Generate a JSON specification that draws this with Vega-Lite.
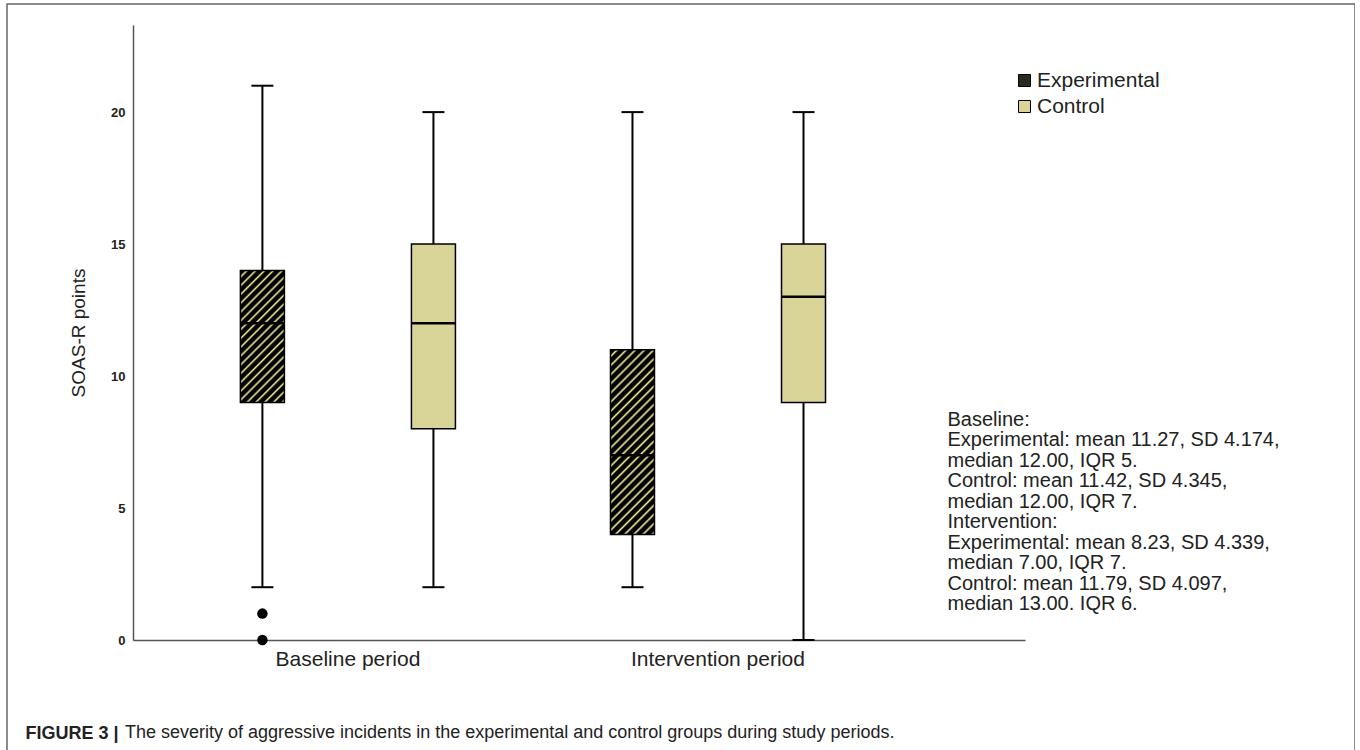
{
  "$schema": "https://vega.github.io/schema/vega-lite/v6.json",
  "width": 1348,
  "height": 770,
  "autosize": {"type": "none"},
  "padding": {"left": 7, "top": 4, "right": 0, "bottom": 0},
  "background": "white",
  "config": {
    "font": "Liberation Sans",
    "view": {"stroke": "#666666", "strokeWidth": 1.5},
    "axis": {"grid": false, "ticks": false, "domainColor": "#555555", "domainWidth": 1.5},
    "axisY": {"offset": -126, "labelFontSize": 13, "labelFontWeight": "bold", "labelPadding": 8, "labelColor": "#222222", "titleFontSize": 19, "titleFontWeight": "normal", "titleColor": "#222222", "titlePadding": 22},
    "tick": {"opacity": 1},
    "point": {"opacity": 1}
  },
  "title": {
    "text": "The severity of aggressive incidents in the experimental and control groups during study periods.",
    "orient": "bottom", "anchor": "start", "frame": "group", "offset": 0, "dx": 118, "dy": -36,
    "baseline": "alphabetic", "fontSize": 18, "fontWeight": "normal", "color": "#222222", "font": "Liberation Sans"
  },
  "datasets": {
    "boxes": [
      {"period": "Baseline period", "group": "Experimental", "lower": 2, "q1": 9, "median": 12, "q3": 14, "upper": 21},
      {"period": "Baseline period", "group": "Control", "lower": 2, "q1": 8, "median": 12, "q3": 15, "upper": 20},
      {"period": "Intervention period", "group": "Experimental", "lower": 2, "q1": 4, "median": 7, "q3": 11, "upper": 20},
      {"period": "Intervention period", "group": "Control", "lower": 0, "q1": 9, "median": 13, "q3": 15, "upper": 20}
    ],
    "outliers": [
      {"period": "Baseline period", "group": "Experimental", "value": 1},
      {"period": "Baseline period", "group": "Experimental", "value": 0}
    ],
    "note": [
      {"note": "Baseline:\nExperimental: mean 11.27, SD 4.174,\nmedian 12.00, IQR 5.\nControl: mean 11.42, SD 4.345,\nmedian 12.00, IQR 7.\nIntervention:\nExperimental: mean 8.23, SD 4.339,\nmedian 7.00, IQR 7.\nControl: mean 11.79, SD 4.097,\nmedian 13.00. IQR 6."}
    ]
  },
  "encoding": {
    "x": {
      "field": "period", "type": "nominal", "sort": ["Baseline period", "Intervention period"],
      "scale": {"range": [126, 1018], "paddingInner": 0.0757, "paddingOuter": 0.243, "align": 0.244},
      "axis": {
        "offset": -134, "labelAngle": 0, "labelFontSize": 21, "labelPadding": 8, "labelColor": "#222222",
        "title": "FIGURE 3 |", "titleFontSize": 18, "titleFontWeight": "bold", "titleColor": "#222222",
        "titleX": 18, "titleY": 98, "titleAlign": "left", "titleBaseline": "alphabetic"
      }
    },
    "xOffset": {"field": "group", "type": "nominal", "sort": ["Experimental", "Control"], "scale": {"domain": ["Experimental", "Control"], "paddingInner": 0, "paddingOuter": 0}}
  },
  "layer": [
    {
      "data": {"name": "boxes"},
      "mark": {"type": "rule", "color": "#000000", "strokeWidth": 2},
      "encoding": {
        "y": {"field": "lower", "type": "quantitative", "title": "SOAS-R points", "scale": {"domain": [0, 23.3], "range": [636, 21], "nice": false}, "axis": {"values": [0, 5, 10, 15, 20]}},
        "y2": {"field": "upper"}
      }
    },
    {
      "data": {"name": "boxes"},
      "mark": {"type": "tick", "color": "#000000", "size": 22, "thickness": 2},
      "encoding": {
        "y": {"field": "upper", "type": "quantitative", "title": "SOAS-R points"}
      }
    },
    {
      "data": {"name": "boxes"},
      "mark": {"type": "tick", "color": "#000000", "size": 22, "thickness": 2},
      "encoding": {
        "y": {"field": "lower", "type": "quantitative", "title": "SOAS-R points"}
      }
    },
    {
      "data": {"name": "boxes"},
      "mark": {"type": "bar", "size": 44, "stroke": "#000000", "strokeWidth": 1.5},
      "encoding": {
        "y": {"field": "q1", "type": "quantitative", "title": "SOAS-R points"},
        "y2": {"field": "q3"},
        "fill": {
          "field": "group", "type": "nominal",
          "scale": {"domain": ["Experimental", "Control"], "range": ["#2a2a1e", "#d9d497"]},
          "legend": {
            "orient": "none", "legendX": 1007, "legendY": 66, "title": null,
            "symbolType": "square", "symbolSize": 144, "symbolStrokeColor": "#000000", "symbolStrokeWidth": 1,
            "labelFontSize": 21, "labelOffset": 2, "rowPadding": 4, "labelColor": "#222222"
          },
          "condition": [
            {
              "test": "datum.period === 'Baseline period' && datum.group === 'Experimental'",
              "value": {
                "gradient": "linear", "x1": 0, "y1": 0, "x2": 0.4, "y2": 1.2,
                "stops": [
                  {"offset": 0, "color": "#000000"}, {"offset": 0.025, "color": "#000000"}, {"offset": 0.0375, "color": "#f0eb96"},
                  {"offset": 0.05, "color": "#000000"}, {"offset": 0.075, "color": "#000000"}, {"offset": 0.0875, "color": "#f0eb96"},
                  {"offset": 0.1, "color": "#000000"}, {"offset": 0.125, "color": "#000000"}, {"offset": 0.1375, "color": "#f0eb96"},
                  {"offset": 0.15, "color": "#000000"}, {"offset": 0.175, "color": "#000000"}, {"offset": 0.1875, "color": "#f0eb96"},
                  {"offset": 0.2, "color": "#000000"}, {"offset": 0.225, "color": "#000000"}, {"offset": 0.2375, "color": "#f0eb96"},
                  {"offset": 0.25, "color": "#000000"}, {"offset": 0.275, "color": "#000000"}, {"offset": 0.2875, "color": "#f0eb96"},
                  {"offset": 0.3, "color": "#000000"}, {"offset": 0.325, "color": "#000000"}, {"offset": 0.3375, "color": "#f0eb96"},
                  {"offset": 0.35, "color": "#000000"}, {"offset": 0.375, "color": "#000000"}, {"offset": 0.3875, "color": "#f0eb96"},
                  {"offset": 0.4, "color": "#000000"}, {"offset": 0.425, "color": "#000000"}, {"offset": 0.4375, "color": "#f0eb96"},
                  {"offset": 0.45, "color": "#000000"}, {"offset": 0.475, "color": "#000000"}, {"offset": 0.4875, "color": "#f0eb96"},
                  {"offset": 0.5, "color": "#000000"}, {"offset": 0.525, "color": "#000000"}, {"offset": 0.5375, "color": "#f0eb96"},
                  {"offset": 0.55, "color": "#000000"}, {"offset": 0.575, "color": "#000000"}, {"offset": 0.5875, "color": "#f0eb96"},
                  {"offset": 0.6, "color": "#000000"}, {"offset": 0.625, "color": "#000000"}, {"offset": 0.6375, "color": "#f0eb96"},
                  {"offset": 0.65, "color": "#000000"}, {"offset": 0.675, "color": "#000000"}, {"offset": 0.6875, "color": "#f0eb96"},
                  {"offset": 0.7, "color": "#000000"}, {"offset": 0.725, "color": "#000000"}, {"offset": 0.7375, "color": "#f0eb96"},
                  {"offset": 0.75, "color": "#000000"}, {"offset": 0.775, "color": "#000000"}, {"offset": 0.7875, "color": "#f0eb96"},
                  {"offset": 0.8, "color": "#000000"}, {"offset": 0.825, "color": "#000000"}, {"offset": 0.8375, "color": "#f0eb96"},
                  {"offset": 0.85, "color": "#000000"}, {"offset": 0.875, "color": "#000000"}, {"offset": 0.8875, "color": "#f0eb96"},
                  {"offset": 0.9, "color": "#000000"}, {"offset": 0.925, "color": "#000000"}, {"offset": 0.9375, "color": "#f0eb96"},
                  {"offset": 0.95, "color": "#000000"}, {"offset": 0.975, "color": "#000000"}, {"offset": 0.9875, "color": "#f0eb96"},
                  {"offset": 1, "color": "#000000"}
                ]
              }
            },
            {
              "test": "datum.period === 'Intervention period' && datum.group === 'Experimental'",
              "value": {
                "gradient": "linear", "x1": 0, "y1": 0, "x2": 0.2791, "y2": 1.1717,
                "stops": [
                  {"offset": 0, "color": "#000000"}, {"offset": 0.02, "color": "#000000"}, {"offset": 0.03, "color": "#f0eb96"},
                  {"offset": 0.04, "color": "#000000"}, {"offset": 0.06, "color": "#000000"}, {"offset": 0.07, "color": "#f0eb96"},
                  {"offset": 0.08, "color": "#000000"}, {"offset": 0.10, "color": "#000000"}, {"offset": 0.11, "color": "#f0eb96"},
                  {"offset": 0.12, "color": "#000000"}, {"offset": 0.14, "color": "#000000"}, {"offset": 0.15, "color": "#f0eb96"},
                  {"offset": 0.16, "color": "#000000"}, {"offset": 0.18, "color": "#000000"}, {"offset": 0.19, "color": "#f0eb96"},
                  {"offset": 0.20, "color": "#000000"}, {"offset": 0.22, "color": "#000000"}, {"offset": 0.23, "color": "#f0eb96"},
                  {"offset": 0.24, "color": "#000000"}, {"offset": 0.26, "color": "#000000"}, {"offset": 0.27, "color": "#f0eb96"},
                  {"offset": 0.28, "color": "#000000"}, {"offset": 0.30, "color": "#000000"}, {"offset": 0.31, "color": "#f0eb96"},
                  {"offset": 0.32, "color": "#000000"}, {"offset": 0.34, "color": "#000000"}, {"offset": 0.35, "color": "#f0eb96"},
                  {"offset": 0.36, "color": "#000000"}, {"offset": 0.38, "color": "#000000"}, {"offset": 0.39, "color": "#f0eb96"},
                  {"offset": 0.40, "color": "#000000"}, {"offset": 0.42, "color": "#000000"}, {"offset": 0.43, "color": "#f0eb96"},
                  {"offset": 0.44, "color": "#000000"}, {"offset": 0.46, "color": "#000000"}, {"offset": 0.47, "color": "#f0eb96"},
                  {"offset": 0.48, "color": "#000000"}, {"offset": 0.50, "color": "#000000"}, {"offset": 0.51, "color": "#f0eb96"},
                  {"offset": 0.52, "color": "#000000"}, {"offset": 0.54, "color": "#000000"}, {"offset": 0.55, "color": "#f0eb96"},
                  {"offset": 0.56, "color": "#000000"}, {"offset": 0.58, "color": "#000000"}, {"offset": 0.59, "color": "#f0eb96"},
                  {"offset": 0.60, "color": "#000000"}, {"offset": 0.62, "color": "#000000"}, {"offset": 0.63, "color": "#f0eb96"},
                  {"offset": 0.64, "color": "#000000"}, {"offset": 0.66, "color": "#000000"}, {"offset": 0.67, "color": "#f0eb96"},
                  {"offset": 0.68, "color": "#000000"}, {"offset": 0.70, "color": "#000000"}, {"offset": 0.71, "color": "#f0eb96"},
                  {"offset": 0.72, "color": "#000000"}, {"offset": 0.74, "color": "#000000"}, {"offset": 0.75, "color": "#f0eb96"},
                  {"offset": 0.76, "color": "#000000"}, {"offset": 0.78, "color": "#000000"}, {"offset": 0.79, "color": "#f0eb96"},
                  {"offset": 0.80, "color": "#000000"}, {"offset": 0.82, "color": "#000000"}, {"offset": 0.83, "color": "#f0eb96"},
                  {"offset": 0.84, "color": "#000000"}, {"offset": 0.86, "color": "#000000"}, {"offset": 0.87, "color": "#f0eb96"},
                  {"offset": 0.88, "color": "#000000"}, {"offset": 0.90, "color": "#000000"}, {"offset": 0.91, "color": "#f0eb96"},
                  {"offset": 0.92, "color": "#000000"}, {"offset": 0.94, "color": "#000000"}, {"offset": 0.95, "color": "#f0eb96"},
                  {"offset": 0.96, "color": "#000000"}, {"offset": 0.98, "color": "#000000"}, {"offset": 0.99, "color": "#f0eb96"},
                  {"offset": 1, "color": "#000000"}
                ]
              }
            }
          ]
        }
      }
    },
    {
      "data": {"name": "boxes"},
      "mark": {"type": "tick", "color": "#000000", "size": 44, "thickness": 2.5},
      "encoding": {
        "y": {"field": "median", "type": "quantitative", "title": "SOAS-R points"}
      }
    },
    {
      "data": {"name": "outliers"},
      "mark": {"type": "point", "shape": "circle", "filled": true, "color": "#000000", "size": 110},
      "encoding": {
        "y": {"field": "value", "type": "quantitative", "title": "SOAS-R points"}
      }
    },
    {
      "data": {"name": "note"},
      "mark": {"type": "text", "align": "left", "baseline": "middle", "dx": 144, "fontSize": 20, "lineHeight": 20.5, "lineBreak": "\n", "color": "#222222"},
      "encoding": {
        "x": {"datum": "Intervention period"},
        "xOffset": {"datum": "Control"},
        "y": {"datum": 8.34, "type": "quantitative"},
        "text": {"field": "note", "type": "nominal"}
      }
    }
  ]
}
